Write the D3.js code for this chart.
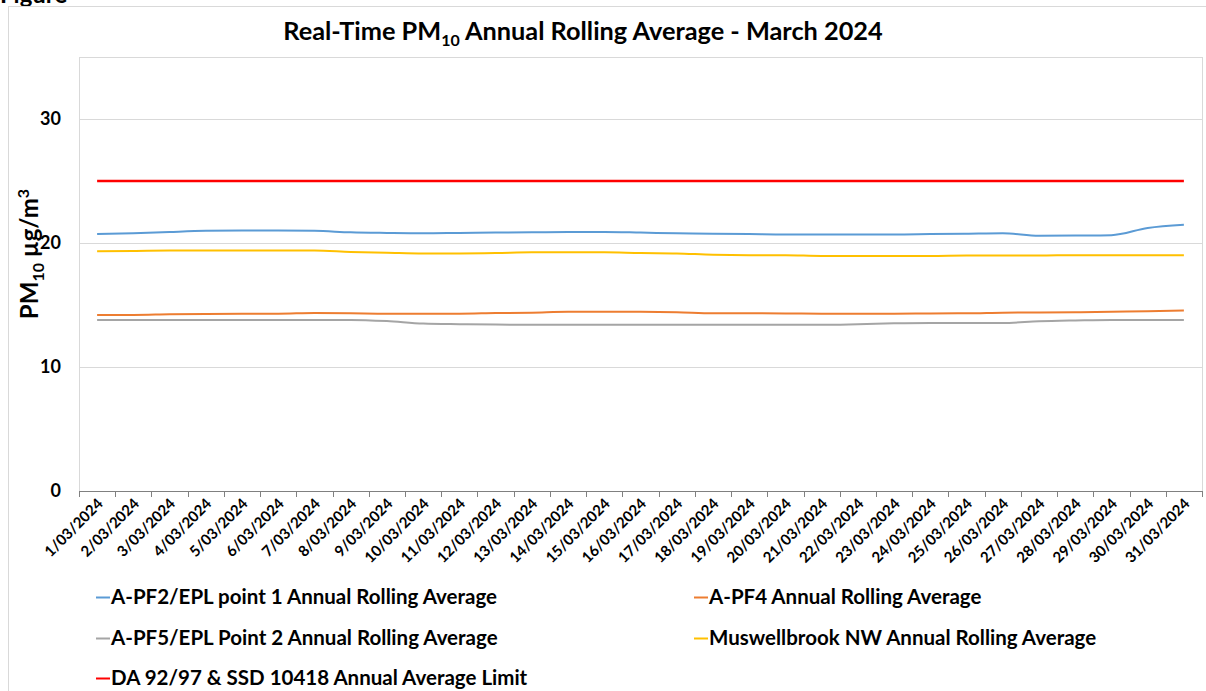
<!DOCTYPE html>
<html>
<head>
<meta charset="utf-8">
<script src="https://cdn.jsdelivr.net/npm/d3@7"></script>
<style>
  html, body { margin: 0; padding: 0; background: #fff; }
  svg { display: block; font-family: Lato, "Open Sans", sans-serif; font-weight: bold; }
</style>
</head>
<body>
<svg id="chart" width="1206" height="691"></svg>
<script>
const dates = [
  '1/03/2024', '2/03/2024', '3/03/2024', '4/03/2024', '5/03/2024', '6/03/2024', '7/03/2024',
  '8/03/2024', '9/03/2024', '10/03/2024', '11/03/2024', '12/03/2024', '13/03/2024', '14/03/2024',
  '15/03/2024', '16/03/2024', '17/03/2024', '18/03/2024', '19/03/2024', '20/03/2024', '21/03/2024',
  '22/03/2024', '23/03/2024', '24/03/2024', '25/03/2024', '26/03/2024', '27/03/2024', '28/03/2024',
  '29/03/2024', '30/03/2024', '31/03/2024'
];

const pf2Values = [20.72, 20.78, 20.89, 20.98, 21.0, 21.0, 20.98, 20.86, 20.81, 20.78, 20.81, 20.84, 20.86, 20.89, 20.89, 20.84,
  20.78, 20.75, 20.72, 20.69, 20.69, 20.69, 20.69, 20.72, 20.75, 20.78, 20.58, 20.6, 20.63, 21.21, 21.47];
const pf4Values = [14.2, 14.2, 14.25, 14.28, 14.3, 14.3, 14.35, 14.33, 14.3, 14.3, 14.3, 14.35, 14.38, 14.45, 14.45, 14.45,
  14.42, 14.33, 14.33, 14.32, 14.3, 14.3, 14.3, 14.32, 14.33, 14.38, 14.4, 14.42, 14.45, 14.5, 14.55];
const pf5Values = [13.8, 13.8, 13.8, 13.8, 13.8, 13.8, 13.8, 13.8, 13.7, 13.5, 13.45, 13.42, 13.4, 13.4, 13.4, 13.4,
  13.4, 13.4, 13.4, 13.4, 13.4, 13.45, 13.52, 13.55, 13.55, 13.55, 13.68, 13.75, 13.8, 13.8, 13.8];
const muswellValues = [19.34, 19.36, 19.39, 19.39, 19.39, 19.39, 19.39, 19.28, 19.22, 19.16, 19.16, 19.19, 19.25, 19.25, 19.25, 19.19,
  19.16, 19.05, 19.02, 19.02, 18.96, 18.96, 18.96, 18.96, 18.99, 18.99, 18.99, 19.02, 19.02, 19.02, 19.02];
const limitValues = dates.map(() => 25);

const yTicks = [0, 10, 20, 30];

const series = [
  { name: 'A-PF2/EPL point 1 Annual Rolling Average', values: pf2Values, color: '#5B9BD5' },
  { name: 'A-PF4 Annual Rolling Average', values: pf4Values, color: '#ED7D31' },
  { name: 'A-PF5/EPL Point 2 Annual Rolling Average', values: pf5Values, color: '#A5A5A5' },
  { name: 'Muswellbrook NW Annual Rolling Average', values: muswellValues, color: '#FFC000' },
  { name: 'DA 92/97 & SSD 10418 Annual Average Limit', values: limitValues, color: '#FF0000' }
];

const svg = d3.select('#chart');
const plot = { left: 79, right: 1202, top: 57, bottom: 491 };

// heading above the chart box (cut by the page top, as in the source)
svg.append('text')
  .attr('x', 0).attr('y', 3)
  .attr('font-size', 24)
  .attr('fill', '#000')
  .text('Figure');

// chart area border
svg.append('rect')
  .attr('x', 8.5).attr('y', 6.5)
  .attr('width', 1210).attr('height', 700)
  .attr('fill', '#fff')
  .attr('stroke', '#D9D9D9');

const x = d3.scaleBand().domain(dates).range([plot.left, plot.right]).paddingInner(0).paddingOuter(0);
const y = d3.scaleLinear().domain([0, 35]).range([plot.bottom, plot.top]);

// plot area border
svg.append('rect')
  .attr('x', plot.left + 0.5).attr('y', plot.top + 0.5)
  .attr('width', plot.right - plot.left).attr('height', plot.bottom - plot.top)
  .attr('fill', 'none')
  .attr('stroke', '#D9D9D9');

// gridlines
svg.append('g').selectAll('line')
  .data(yTicks.filter(d => d > 0))
  .join('line')
  .attr('x1', plot.left).attr('x2', plot.right)
  .attr('y1', d => Math.round(y(d)) + 0.5).attr('y2', d => Math.round(y(d)) + 0.5)
  .attr('stroke', '#D9D9D9');

// y axis labels
const yAxis = svg.append('g')
  .attr('transform', `translate(${plot.left - 18},0)`)
  .call(d3.axisLeft(y).tickValues(yTicks).tickSize(0).tickPadding(0));
yAxis.select('.domain').remove();
yAxis.selectAll('text')
  .attr('font-family', 'Lato, sans-serif')
  .attr('font-weight', 'bold')
  .attr('font-size', 18)
  .attr('fill', '#000');

// x axis line and ticks between categories
svg.append('line')
  .attr('x1', plot.left).attr('x2', plot.right + 1)
  .attr('y1', plot.bottom + 0.5).attr('y2', plot.bottom + 0.5)
  .attr('stroke', '#808080').attr('stroke-width', 1.2);

const boundaries = dates.map(d => x(d)).concat([x(dates[dates.length - 1]) + x.bandwidth()]);
svg.append('g').selectAll('line')
  .data(boundaries)
  .join('line')
  .attr('x1', d => Math.round(d) + 0.5).attr('x2', d => Math.round(d) + 0.5)
  .attr('y1', plot.bottom).attr('y2', plot.bottom + 6)
  .attr('stroke', '#808080');

// x labels
svg.append('g').selectAll('text')
  .data(dates)
  .join('text')
  .attr('transform', d => `translate(${x(d) + x.bandwidth() / 2 + 3},${plot.bottom + 10}) rotate(-45)`)
  .attr('text-anchor', 'end')
  .attr('dy', '0.35em')
  .attr('font-size', 15)
  .attr('fill', '#000')
  .text(d => d);

// series lines
const line = d3.line()
  .x((d, i) => x(dates[i]) + x.bandwidth() / 2)
  .y(d => y(d))
  .curve(d3.curveMonotoneX);

svg.append('g').selectAll('path')
  .data(series)
  .join('path')
  .attr('d', s => line(s.values))
  .attr('fill', 'none')
  .attr('stroke', s => s.color)
  .attr('stroke-width', s => s.color === '#FF0000' ? 2.5 : 2)
  .attr('stroke-linejoin', 'round');

// title
const title = svg.append('text')
  .attr('x', 583).attr('y', 40)
  .attr('text-anchor', 'middle')
  .attr('font-size', 25.3)
  .attr('fill', '#000');
title.append('tspan').text('Real-Time PM');
title.append('tspan').attr('font-size', 16).attr('dy', 6).text('10');
title.append('tspan').attr('dy', -6).text(' Annual Rolling Average - March 2024');

// y axis title
const yTitle = svg.append('text')
  .attr('transform', 'translate(38,254) rotate(-90)')
  .attr('text-anchor', 'middle')
  .attr('font-size', 24)
  .attr('fill', '#000');
yTitle.append('tspan').text('PM');
yTitle.append('tspan').attr('font-size', 16).attr('dy', 6).text('10');
yTitle.append('tspan').attr('dy', -6).text(' µg/m');
yTitle.append('tspan').attr('font-size', 16).attr('dy', -9).text('3');

// legend
const legendPos = [
  { x: 96, y: 597 }, { x: 694, y: 597 },
  { x: 96, y: 638 }, { x: 694, y: 638 },
  { x: 96, y: 678 }
];
const legend = svg.append('g').selectAll('g')
  .data(series)
  .join('g')
  .attr('transform', (d, i) => `translate(${legendPos[i].x},${legendPos[i].y})`);

legend.append('line')
  .attr('x1', 0).attr('x2', 14)
  .attr('y1', 0.5).attr('y2', 0.5)
  .attr('stroke', d => d.color)
  .attr('stroke-width', 2);

legend.append('text')
  .attr('x', 15).attr('y', 0)
  .attr('dy', '0.35em')
  .attr('font-size', 20.5)
  .attr('fill', '#000')
  .text(d => d.name);
</script>
</body>
</html>
